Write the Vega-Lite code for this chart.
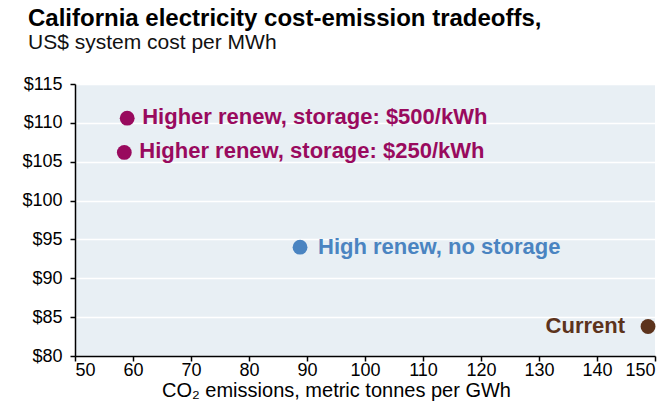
{
  "$schema": "https://vega.github.io/schema/vega-lite/v6.json",
  "width": 580,
  "height": 272,
  "autosize": "none",
  "padding": {"left": 75, "top": 84, "right": 16, "bottom": 62},
  "background": "white",
  "title": {
    "text": "California electricity cost-emission tradeoffs,",
    "subtitle": "US$ system cost per MWh",
    "anchor": "start",
    "frame": "group",
    "dx": -47,
    "offset": 22,
    "font": "Liberation Sans",
    "fontSize": 24,
    "fontWeight": "bold",
    "color": "#000000",
    "subtitleFont": "Liberation Sans",
    "subtitleFontSize": 21,
    "subtitleColor": "#111111",
    "subtitlePadding": 1
  },
  "config": {
    "view": {"fill": "#e8eff4", "stroke": null},
    "font": "Liberation Sans",
    "axis": {
      "labelFont": "Liberation Sans",
      "titleFont": "Liberation Sans",
      "labelColor": "#000000",
      "titleColor": "#000000",
      "domainColor": "#000000",
      "tickColor": "#000000",
      "domainWidth": 1.5,
      "tickWidth": 1.5,
      "tickSize": 5,
      "labelFontSize": 18,
      "titleFontSize": 20,
      "titleFontWeight": "normal"
    }
  },
  "data": {
    "values": [
      {"scenario": "Higher renew, storage: $500/kWh", "emissions": 59.0, "cost": 110.6, "group": "higher"},
      {"scenario": "Higher renew, storage: $250/kWh", "emissions": 58.5, "cost": 106.2, "group": "higher"},
      {"scenario": "High renew, no storage", "emissions": 88.8, "cost": 94.0, "group": "high"},
      {"scenario": "Current", "emissions": 148.8, "cost": 83.8, "group": "current"}
    ]
  },
  "encoding": {
    "x": {
      "field": "emissions",
      "type": "quantitative",
      "scale": {"domain": [50, 150], "nice": false, "zero": false},
      "axis": {
        "values": [50, 60, 70, 80, 90, 100, 110, 120, 130, 140, 150],
        "grid": false,
        "title": "CO₂ emissions, metric tonnes per GWh",
        "labelPadding": 0,
        "titleX": 261,
        "titleY": 40,
        "titleAlign": "center",
        "titleBaseline": "alphabetic"
      }
    },
    "y": {
      "field": "cost",
      "type": "quantitative",
      "scale": {"domain": [80, 115], "nice": false, "zero": false},
      "axis": {
        "values": [80, 85, 90, 95, 100, 105, 110, 115],
        "labelExpr": "'$' + datum.value",
        "grid": true,
        "gridColor": "#ffffff",
        "gridWidth": 1.5,
        "title": null,
        "labelPadding": 8
      }
    },
    "color": {
      "field": "group",
      "type": "nominal",
      "scale": {"domain": ["higher", "high", "current"], "range": ["#990a5e", "#4a84c1", "#5c331c"]},
      "legend": null
    }
  },
  "layer": [
    {"mark": {"type": "circle", "size": 220, "opacity": 1}},
    {
      "transform": [{"filter": "datum.group === 'higher'"}],
      "mark": {"type": "text", "align": "left", "baseline": "middle", "dx": 15, "dy": -1, "fontSize": 22, "fontWeight": "bold", "font": "Liberation Sans"},
      "encoding": {"text": {"field": "scenario"}}
    },
    {
      "transform": [{"filter": "datum.group === 'high'"}],
      "mark": {"type": "text", "align": "left", "baseline": "middle", "dx": 18, "fontSize": 22, "fontWeight": "bold", "font": "Liberation Sans"},
      "encoding": {"text": {"field": "scenario"}}
    },
    {
      "transform": [{"filter": "datum.group === 'current'"}],
      "mark": {"type": "text", "align": "right", "baseline": "middle", "dx": -23, "fontSize": 22, "fontWeight": "bold", "font": "Liberation Sans"},
      "encoding": {"text": {"field": "scenario"}}
    }
  ]
}
